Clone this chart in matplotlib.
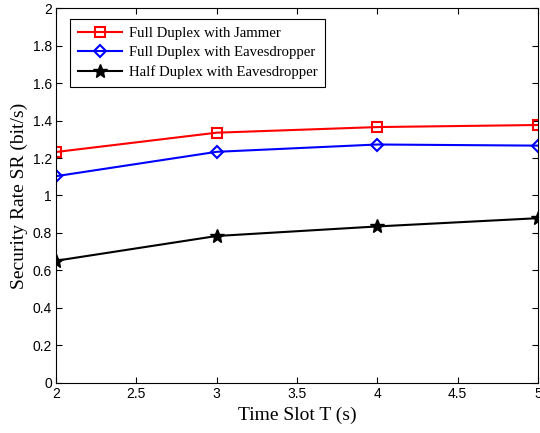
import matplotlib
matplotlib.use("Agg")
import matplotlib.pyplot as plt

# --- Data ---
time_slot = [2, 3, 4, 5]
fd_jammer = [1.232, 1.335, 1.365, 1.376]
fd_eaves = [1.103, 1.233, 1.272, 1.266]
hd_eaves = [0.652, 0.784, 0.835, 0.879]

x_ticks = [2, 2.5, 3, 3.5, 4, 4.5, 5]
x_tick_labels = ["2", "2.5", "3", "3.5", "4", "4.5", "5"]
y_ticks = [0, 0.2, 0.4, 0.6, 0.8, 1, 1.2, 1.4, 1.6, 1.8, 2]
y_tick_labels = ["0", "0.2", "0.4", "0.6", "0.8", "1", "1.2", "1.4", "1.6", "1.8", "2"]

serif = "Liberation Serif"
sans = "Liberation Sans"

fig = plt.figure(figsize=(5.4, 4.33), dpi=100)
ax = fig.add_axes([0.1037, 0.1155, 0.8923, 0.866])

ax.plot(time_slot, fd_jammer, color="red", lw=1.5, marker="s", ms=7,
        mfc="none", mec="red", mew=1.5, label="Full Duplex with Jammer")
ax.plot(time_slot, fd_eaves, color="blue", lw=1.5, marker="D", ms=6,
        mfc="none", mec="blue", mew=1.5, label="Full Duplex with Eavesdropper")
ax.plot(time_slot, hd_eaves, color="black", lw=1.5, marker="*", ms=10,
        mfc="black", mec="black", label="Half Duplex with Eavesdropper")

ax.set_xlim(2, 5)
ax.set_ylim(0, 2)
ax.set_xticks(x_ticks)
ax.set_xticklabels(x_tick_labels, fontfamily=sans, fontsize=10)
ax.set_yticks(y_ticks)
ax.set_yticklabels(y_tick_labels, fontfamily=sans, fontsize=10)
ax.tick_params(direction="in", top=True, right=True, length=4, width=0.8, pad=3)
for s in ax.spines.values():
    s.set_linewidth(0.8)

ax.set_xlabel("Time Slot T (s)", fontfamily=serif, fontsize=14, labelpad=4)
ax.set_ylabel("Security Rate SR (bit/s)", fontfamily=serif, fontsize=14, labelpad=3)

leg = ax.legend(loc="upper left", bbox_to_anchor=(0.03, 0.97), prop={"family": serif, "size": 10.6},
                frameon=True, fancybox=False, edgecolor="black", framealpha=1,
                handlelength=3.0, handletextpad=0.5, borderpad=0.5, labelspacing=0.42,
                borderaxespad=0)
leg.get_frame().set_linewidth(0.8)

fig.savefig("out.png", dpi=100)
